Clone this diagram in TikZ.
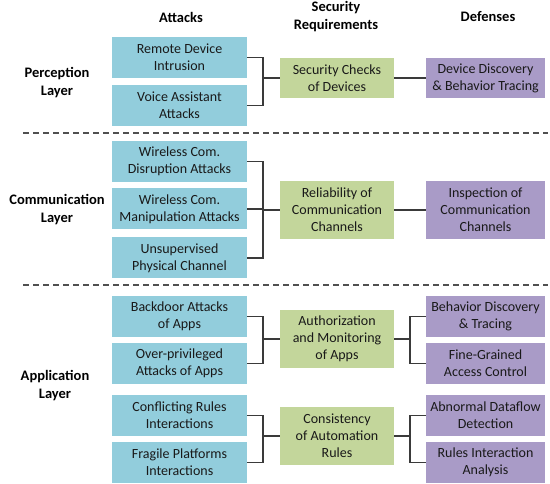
\documentclass[tikz,border=0pt]{standalone}
\usepackage{fontspec}
\setmainfont{Carlito}
\usetikzlibrary{calc}
\definecolor{atkblue}{HTML}{92CDDC}
\definecolor{reqgreen}{HTML}{C3D69B}
\definecolor{defpurple}{HTML}{A99BC7}
\definecolor{linegray}{HTML}{3A3A3A}
\definecolor{dashgray}{HTML}{505050}
\begin{document}
\begin{tikzpicture}[x=1pt,y=-1pt,
  box/.style={inner sep=1pt,align=center,font=\fontsize{14}{17}\selectfont,text=black!90},
  atk/.style={box,fill=atkblue,minimum width=135pt,minimum height=41pt},
  req/.style={box,fill=reqgreen,minimum width=114pt},
  def/.style={box,fill=defpurple,minimum width=119pt,minimum height=41pt},
  head/.style={align=center,font=\bfseries\fontsize{14.5}{18}\selectfont},
  link/.style={draw=linegray,line width=1.3pt},
  sep/.style={draw=dashgray,line width=1.3pt,dash pattern=on 6pt off 4pt}]
\useasboundingbox (0,0) rectangle (550,484);

% column headings
\node[head] (hA) at (181,17) {Attacks};
\node[head] (hR) at (336,17) {Security\\Requirements};
\node[head] (hD) at (488,17) {Defenses};

% layer labels
\node[head] (lP) at (57,83) {Perception\\Layer};
\node[head] (lC) at (57,210) {Communication\\Layer};
\node[head] (lA) at (55,386) {Application\\Layer};

% layer separators
\coordinate (s1l) at (23,133);  \coordinate (s1r) at (548,133);
\coordinate (s2l) at (23,285);  \coordinate (s2r) at (548,285);
\draw[sep] (s1l) -- (s1r);
\draw[sep] (s2l) -- (s2r);

% attacks
\node[atk] (a1) at (179.5,57.5) {Remote Device\\Intrusion};
\node[atk] (a2) at (179.5,105.5) {Voice Assistant\\Attacks};
\node[atk] (a3) at (179.5,161.5) {Wireless Com.\\Disruption Attacks};
\node[atk] (a4) at (179.5,209) {Wireless Com.\\Manipulation Attacks};
\node[atk] (a5) at (179.5,258) {Unsupervised\\Physical Channel};
\node[atk] (a6) at (179.5,316.5) {Backdoor Attacks\\of Apps};
\node[atk] (a7) at (179.5,363.5) {Over-privileged\\Attacks of Apps};
\node[atk] (a8) at (179.5,415.5) {Conflicting Rules\\Interactions};
\node[atk] (a9) at (179.5,462.5) {Fragile Platforms\\Interactions};

% security requirements
\node[req,minimum height=40pt] (r1) at (337,78) {Security Checks\\of Devices};
\node[req,minimum height=58pt] (r2) at (337,210) {Reliability of\\Communication\\Channels};
\node[req,minimum height=58pt] (r3) at (337,339) {Authorization\\and Monitoring\\of Apps};
\node[req,minimum height=58pt] (r4) at (337,436) {Consistency\\of Automation\\Rules};

% defenses
\node[def,minimum height=40pt] (d1) at (485.5,78) {Device Discovery\\\& Behavior Tracing};
\node[def,minimum height=58pt] (d2) at (485.5,210) {Inspection of\\Communication\\Channels};
\node[def] (d3) at (485.5,316.5) {Behavior Discovery\\\& Tracing};
\node[def] (d4) at (485.5,363.5) {Fine-Grained\\Access Control};
\node[def] (d5) at (485.5,415.5) {Abnormal Dataflow\\Detection};
\node[def] (d6) at (485.5,462.5) {Rules Interaction\\Analysis};

% bracket columns
\coordinate (bl) at (263,0);
\coordinate (br) at (410,0);

% attacks -> requirements
\foreach \a/\r in {a1/r1,a2/r1,a3/r2,a5/r2,a6/r3,a7/r3,a8/r4,a9/r4}
  \draw[link] (\a.east) -- (\a.east -| bl) |- (\r.west);
\draw[link] (a4.east) -- (a4.east -| bl) |- (r2.west);

% requirements -> defenses
\draw[link] (r1.east) -- (d1.west);
\draw[link] (r2.east) -- (d2.west);
\foreach \r/\d in {r3/d3,r3/d4,r4/d5,r4/d6}
  \draw[link] (\r.east) -- (\r.east -| br) |- (\d.west);
\end{tikzpicture}
\end{document}
